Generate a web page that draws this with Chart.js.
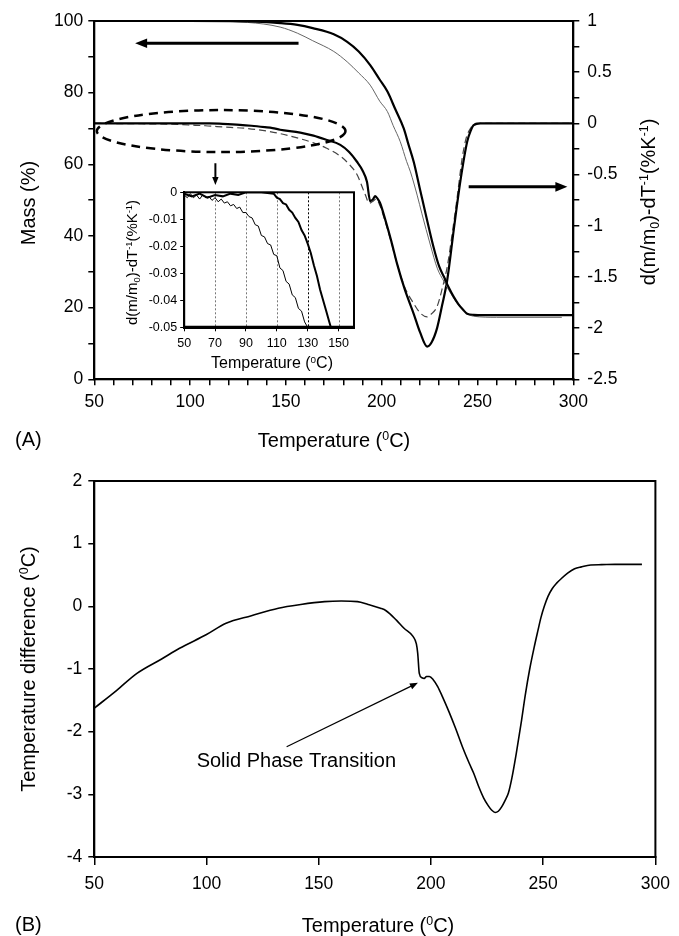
<!DOCTYPE html>
<html lang="en">
<head>
<meta charset="UTF-8">
<script src="https://cdn.jsdelivr.net/npm/chart.js@4.4.1/dist/chart.umd.min.js"></script>
<title>TGA / DTG / DTA</title>
<style>
  body { margin: 0; background: #fff; }
  #wrap { position: relative; width: 679px; height: 936px; }
  canvas { position: absolute; }
</style>
</head>
<body>
<div id="wrap">
  <canvas id="tga" width="679" height="460" style="left:0;top:0"></canvas>
  <canvas id="inset" width="260" height="195" style="left:110px;top:180px"></canvas>
  <canvas id="dta" width="679" height="476" style="left:0;top:460px"></canvas>
</div>
<script>
// ---- data ----
// (A) mass curves, left axis
const massThickT = [50, 100, 130, 147, 156, 164, 175, 182, 188, 194, 199, 203, 207, 211.5, 214, 216.7, 220, 223, 227, 230, 232.5, 235, 237.6, 240, 242.5, 244.6, 248, 260, 280, 300];
const massThick  = [100, 100, 99.9, 99.4, 98.9, 98, 96.3, 94.2, 91.5, 87.7, 83.6, 80.3, 75.5, 70, 65.5, 60.7, 53, 46, 37, 31.5, 28.6, 25.6, 23, 21, 19.4, 18.3, 18, 17.9, 17.9, 17.9];
const massThinT  = [50, 100, 130, 147, 156, 164, 175, 182, 188, 194, 199, 203, 206, 209.7, 213, 215, 218.5, 221, 225.4, 229, 232.5, 236, 240, 244, 248, 260, 280, 294];
const massThin   = [100, 100, 99.6, 98.3, 96.6, 94.5, 91.5, 88.6, 85.5, 82.1, 77.6, 74.7, 70.8, 66.3, 60.8, 57.9, 51.4, 46.2, 37.5, 31, 27.3, 24, 20.8, 18.6, 17.6, 17.3, 17.3, 17.3];
// (A) derivative curves, right axis
const dtgThickT = [50, 110, 117, 126, 132, 139, 143, 147, 157.5, 164.4, 171, 178.4, 183, 187.1, 190, 192.3, 194, 195.5, 196.6, 198, 199.2, 202, 205, 208, 212, 216.7, 220, 223.7, 226, 228.9, 231.5, 234.2, 237.6, 241.1, 244.6, 246.5, 248, 251.5, 260, 280, 300];
const dtgThick  = [0, 0, -0.005, -0.014, -0.023, -0.037, -0.046, -0.062, -0.09, -0.12, -0.16, -0.21, -0.28, -0.375, -0.46, -0.57, -0.76, -0.74, -0.71, -0.74, -0.78, -0.95, -1.15, -1.37, -1.62, -1.86, -2.04, -2.18, -2.14, -2.0, -1.78, -1.53, -1.04, -0.56, -0.18, -0.07, -0.017, 0, 0, 0, 0];
const dtgThinT  = [50, 70, 90.6, 99, 108, 114, 121, 129.5, 140, 147, 157.5, 164.4, 171, 178.4, 183, 187.1, 191.5, 193.5, 195.5, 197, 199, 202, 205, 208, 212, 216.7, 220, 223.7, 226, 228.9, 231.5, 234.2, 237, 239.4, 242, 244, 246.3, 249, 260, 280, 300];
const dtgThin   = [0, -0.003, -0.008, -0.016, -0.023, -0.031, -0.039, -0.049, -0.075, -0.1, -0.15, -0.19, -0.24, -0.32, -0.4, -0.5, -0.7, -0.78, -0.76, -0.74, -0.8, -0.97, -1.16, -1.37, -1.6, -1.76, -1.85, -1.89, -1.86, -1.79, -1.62, -1.4, -1.05, -0.72, -0.34, -0.15, -0.05, 0, 0, 0, 0];
// inset (zoom of the early derivative)
const insetThinT  = [50, 52, 54, 56, 58, 60, 62, 64, 66, 68, 70, 72, 74, 76, 78, 80, 82, 84, 86, 88, 90, 92, 94, 96, 98, 100, 102, 104, 106, 108, 110, 112, 114, 116, 118, 120, 122, 124, 126, 128, 130];
const insetThin   = [-0.001, -0.002, -0.0005, -0.002, -0.001, -0.0025, -0.001, -0.002, -0.0015, -0.003, -0.002, -0.0035, -0.0025, -0.004, -0.0035, -0.005, -0.0045, -0.006, -0.0055, -0.0075, -0.0075, -0.009, -0.0095, -0.012, -0.0125, -0.016, -0.0165, -0.019, -0.0195, -0.023, -0.0235, -0.028, -0.029, -0.033, -0.034, -0.038, -0.039, -0.043, -0.044, -0.048, -0.05];
const insetThickT = [50, 55, 60, 65, 70, 75, 80, 85, 90, 100, 108, 110, 112, 114, 116, 118, 120, 122, 124, 126, 128, 130, 132, 134, 136, 138, 140, 142, 144, 145];
const insetThick  = [-0.0005, -0.0015, -0.0005, -0.002, -0.001, -0.0015, -0.0005, -0.001, 0, 0, -0.0005, -0.002, -0.0025, -0.004, -0.0045, -0.0065, -0.0075, -0.0095, -0.011, -0.014, -0.016, -0.019, -0.0225, -0.027, -0.031, -0.036, -0.04, -0.044, -0.048, -0.05];
// (B) temperature difference
const dtaT = [50, 60, 69, 80, 88, 100, 108.7, 120, 132, 142, 152.6, 160, 167.3, 172, 177.5, 180, 184.6, 188, 192, 193.5, 194.1, 194.8, 196, 197, 198, 199.3, 201, 203, 205.1, 208, 211, 214, 217, 219, 221.3, 223.5, 225.5, 227, 228.6, 230, 231.5, 233, 234.5, 236, 238, 240.4, 242, 244, 246, 247.7, 249, 250.5, 252.1, 254, 256, 258, 260.9, 264, 267, 271.2, 276, 282, 288, 294];
const dta  = [-1.625, -1.34, -1.07, -0.84, -0.67, -0.45, -0.27, -0.15, -0.03, 0.03, 0.075, 0.085, 0.075, 0.03, -0.03, -0.07, -0.22, -0.35, -0.48, -0.6, -0.75, -1.07, -1.14, -1.15, -1.12, -1.12, -1.17, -1.28, -1.44, -1.68, -1.95, -2.24, -2.5, -2.66, -2.88, -3.06, -3.18, -3.25, -3.29, -3.27, -3.2, -3.1, -2.98, -2.75, -2.35, -1.81, -1.42, -1.0, -0.65, -0.38, -0.18, 0.0, 0.155, 0.28, 0.37, 0.44, 0.53, 0.6, 0.63, 0.66, 0.665, 0.67, 0.67, 0.67];

// tick labels
const tempLabels  = [50, 100, 150, 200, 250, 300];
const massLabels  = [0, 20, 40, 60, 80, 100];
const dtgLabels   = [-2.5, -2, -1.5, -1, -0.5, 0, 0.5, 1];
const insetTempLabels = [50, 70, 90, 110, 130, 150];
const insetDtgLabels  = [0, -0.01, -0.02, -0.03, -0.04, -0.05];
const dtaLabels   = [-4, -3, -2, -1, 0, 1, 2];

const FONT = "'Liberation Sans', Arial, sans-serif";
Chart.defaults.font.family = FONT;
Chart.defaults.color = '#000';
Chart.defaults.animation = false;

const pts = (xs, ys) => xs.map((x, i) => ({ x: x, y: ys[i] }));
const isLabel = (list, v) => list.some(l => Math.abs(l - v) < 1e-6);

function richText(ctx, parts, x, y, size, rot) {
  ctx.save();
  ctx.translate(x, y);
  if (rot) ctx.rotate(-Math.PI / 2);
  ctx.fillStyle = '#000';
  ctx.textBaseline = 'alphabetic';
  ctx.textAlign = 'left';
  let w = 0;
  parts.forEach(p => { ctx.font = (p[1] ? size * 0.62 : size) + 'px ' + FONT; w += ctx.measureText(p[0]).width; });
  let cx = -w / 2;
  parts.forEach(p => {
    const s = p[1] ? size * 0.62 : size;
    ctx.font = s + 'px ' + FONT;
    const dy = p[1] === 1 ? -size * 0.36 : p[1] === -1 ? size * 0.2 : 0;
    ctx.fillText(p[0], cx, size * 0.36 + dy);
    cx += ctx.measureText(p[0]).width;
  });
  ctx.restore();
}

function arrow(ctx, x1, y1, x2, y2, w, head) {
  const a = Math.atan2(y2 - y1, x2 - x1), c = Math.cos(a), s = Math.sin(a);
  ctx.save();
  ctx.strokeStyle = '#000'; ctx.fillStyle = '#000'; ctx.lineWidth = w;
  ctx.beginPath(); ctx.moveTo(x1, y1); ctx.lineTo(x2 - c * head * 0.8, y2 - s * head * 0.8); ctx.stroke();
  ctx.beginPath(); ctx.moveTo(x2, y2);
  ctx.lineTo(x2 - head * c + head * 0.4 * s, y2 - head * s - head * 0.4 * c);
  ctx.lineTo(x2 - head * c - head * 0.4 * s, y2 - head * s + head * 0.4 * c);
  ctx.closePath(); ctx.fill();
  ctx.restore();
}

function frame(chart, w) {
  const { ctx, chartArea: a } = chart;
  ctx.save();
  ctx.strokeStyle = '#000'; ctx.lineWidth = w;
  ctx.strokeRect(a.left, a.top, a.right - a.left, a.bottom - a.top);
  ctx.restore();
}

const tickFont = { size: 17.5 };
const axisGrid = (len) => ({ drawOnChartArea: false, drawTicks: true, tickLength: len, color: '#000', lineWidth: 1.5 });
const axisBorder = { color: '#000', width: 2 };

// ---- (A) TGA + DTG ----
new Chart(document.getElementById('tga'), {
  type: 'line',
  data: {
    datasets: [
      { data: pts(massThickT, massThick), yAxisID: 'y', borderColor: '#000', borderWidth: 2.2 },
      { data: pts(massThinT, massThin), yAxisID: 'y', borderColor: '#666', borderWidth: 1 },
      { data: pts(dtgThickT, dtgThick), yAxisID: 'y1', borderColor: '#000', borderWidth: 2.2 },
      { data: pts(dtgThinT, dtgThin), yAxisID: 'y1', borderColor: '#444', borderWidth: 1.2, borderDash: [7, 4] }
    ]
  },
  options: {
    responsive: false,
    layout: { padding: { top: 21, left: 0, right: 0, bottom: 0 } },
    plugins: { legend: { display: false }, tooltip: { enabled: false } },
    elements: { point: { radius: 0 }, line: { cubicInterpolationMode: 'monotone' } },
    scales: {
      x: {
        type: 'linear', min: 50, max: 300,
        ticks: { stepSize: 10, autoSkip: false, maxRotation: 0, padding: 6, font: tickFont,
          callback: v => isLabel(tempLabels, v) ? v : '' },
        grid: axisGrid(6), border: axisBorder,
        afterFit: s => { s.height = 80.7; }
      },
      y: {
        position: 'left', min: 0, max: 100,
        ticks: { stepSize: 10, autoSkip: false, padding: 5, font: tickFont,
          callback: v => isLabel(massLabels, v) ? v : '' },
        grid: axisGrid(6), border: axisBorder,
        afterFit: s => { s.width = 94.3; }
      },
      y1: {
        position: 'right', min: -2.5, max: 1,
        ticks: { stepSize: 0.25, autoSkip: false, padding: 8, font: tickFont,
          callback: v => isLabel(dtgLabels, v) ? String(Math.round(v * 10) / 10) : '' },
        grid: axisGrid(6), border: axisBorder,
        afterFit: s => { s.width = 105.7; }
      }
    }
  },
  plugins: [{
    id: 'tgaDecor',
    afterDatasetsDraw(chart) {
      const { ctx, scales: { x, y, y1 } } = chart;
      frame(chart, 2);
      // dashed ellipse around the early derivative region
      const cx = x.getPixelForValue(116.2), cy = y1.getPixelForValue(-0.075);
      const rx = x.getPixelForValue(116.2 + 64.9) - cx, ry = y1.getPixelForValue(-0.075 - 0.205) - cy;
      ctx.save();
      ctx.strokeStyle = '#000'; ctx.lineWidth = 2.5; ctx.setLineDash([9, 6]);
      ctx.beginPath(); ctx.ellipse(cx, cy, rx, Math.abs(ry), 0, 0, Math.PI * 2); ctx.stroke();
      ctx.restore();
      // arrows pointing to each axis
      arrow(ctx, x.getPixelForValue(156.6), y.getPixelForValue(93.8), x.getPixelForValue(71.3), y.getPixelForValue(93.8), 3, 12);
      arrow(ctx, x.getPixelForValue(245.4), y1.getPixelForValue(-0.62), x.getPixelForValue(296.9), y1.getPixelForValue(-0.62), 3, 12);
      arrow(ctx, x.getPixelForValue(113.2), y.getPixelForValue(60.3), x.getPixelForValue(113.2), y.getPixelForValue(54.2), 2, 8);
      // titles
      richText(ctx, [['Temperature (', 0], ['0', 1], ['C)', 0]], 334, 440, 20, false);
      richText(ctx, [['Mass (%)', 0]], 28, 203, 20, true);
      richText(ctx, [['d(m/m', 0], ['0', -1], [')-dT', 0], ['-1', 1], ['(%K', 0], ['-1', 1], [')', 0]], 648, 202, 20, true);
      ctx.save();
      ctx.font = '20px ' + FONT; ctx.fillStyle = '#000'; ctx.textBaseline = 'middle';
      ctx.fillText('(A)', 15, 440);
      ctx.restore();
    }
  }]
});

// ---- inset ----
new Chart(document.getElementById('inset'), {
  type: 'line',
  data: {
    datasets: [
      { data: pts(insetThickT, insetThick), borderColor: '#000', borderWidth: 2, tension: 0 },
      { data: pts(insetThinT, insetThin), borderColor: '#000', borderWidth: 1, tension: 0 }
    ]
  },
  options: {
    responsive: false,
    layout: { padding: { top: 12.3, right: 16, left: 0, bottom: 0 } },
    plugins: { legend: { display: false }, tooltip: { enabled: false } },
    elements: { point: { radius: 0 } },
    scales: {
      x: {
        type: 'linear', min: 50, max: 160,
        afterBuildTicks: s => { s.ticks = insetTempLabels.map(v => ({ value: v })); },
        ticks: { autoSkip: false, maxRotation: 0, padding: 5, font: { size: 12.5 } },
        grid: { drawOnChartArea: false, tickLength: 4, color: '#000', lineWidth: 1 },
        border: { color: '#000', width: 3 },
        afterFit: s => { s.height = 47.7; }
      },
      y: {
        min: -0.05, max: 0,
        afterBuildTicks: s => { s.ticks = insetDtgLabels.map(v => ({ value: v })); },
        ticks: { autoSkip: false, padding: 3, font: { size: 12.5 },
          callback: v => Math.abs(v) < 1e-9 ? '0' : v.toFixed(2) },
        grid: { drawOnChartArea: false, tickLength: 4, color: '#000', lineWidth: 1 },
        border: { color: '#000', width: 2 },
        afterFit: s => { s.width = 74.2; }
      }
    }
  },
  plugins: [{
    id: 'insetGrid',
    beforeDatasetsDraw(chart) {
      const { ctx, chartArea: a, scales: { x } } = chart;
      ctx.save();
      ctx.setLineDash([2, 2]); ctx.lineWidth = 1;
      insetTempLabels.slice(1).forEach(v => {
        const px = Math.round(x.getPixelForValue(v)) + 0.5;
        ctx.strokeStyle = v === 130 ? '#000' : '#777';
        ctx.beginPath(); ctx.moveTo(px, a.top); ctx.lineTo(px, a.bottom); ctx.stroke();
      });
      ctx.restore();
    },
    afterDatasetsDraw(chart) {
      const { ctx, chartArea: a } = chart;
      frame(chart, 2);
      ctx.save();
      ctx.strokeStyle = '#000'; ctx.lineWidth = 3;
      ctx.beginPath(); ctx.moveTo(a.left, a.bottom); ctx.lineTo(a.right, a.bottom); ctx.stroke();
      ctx.restore();
      richText(ctx, [['Temperature (', 0], ['0', 1], ['C)', 0]], 162, 182.7, 16, false);
      richText(ctx, [['d(m/m', 0], ['0', -1], [')-dT', 0], ['-1', 1], ['(%K', 0], ['-1', 1], [')', 0]], 21.7, 82.5, 15, true);
    }
  }]
});

// ---- (B) DTA ----
new Chart(document.getElementById('dta'), {
  type: 'line',
  data: {
    datasets: [
      { data: pts(dtaT, dta), borderColor: '#000', borderWidth: 1.6 }
    ]
  },
  options: {
    responsive: false,
    layout: { padding: { top: 21, right: 17, left: 0, bottom: 0 } },
    plugins: { legend: { display: false }, tooltip: { enabled: false } },
    elements: { point: { radius: 0 }, line: { cubicInterpolationMode: 'monotone' } },
    scales: {
      x: {
        type: 'linear', min: 50, max: 300,
        ticks: { stepSize: 50, autoSkip: false, maxRotation: 0, padding: 9, font: tickFont,
          callback: v => isLabel(tempLabels, v) ? v : '' },
        grid: axisGrid(8), border: axisBorder,
        afterFit: s => { s.height = 79; }
      },
      y: {
        min: -4, max: 2,
        ticks: { stepSize: 1, autoSkip: false, padding: 6, font: tickFont,
          callback: v => isLabel(dtaLabels, v) ? v : '' },
        grid: axisGrid(6), border: axisBorder,
        afterFit: s => { s.width = 94.3; }
      }
    }
  },
  plugins: [{
    id: 'dtaDecor',
    afterDatasetsDraw(chart) {
      const { ctx, scales: { x, y } } = chart;
      frame(chart, 2);
      arrow(ctx, x.getPixelForValue(135.7), y.getPixelForValue(-2.24), x.getPixelForValue(194.2), y.getPixelForValue(-1.22), 1.2, 8);
      ctx.save();
      ctx.font = '20px ' + FONT; ctx.fillStyle = '#000'; ctx.textBaseline = 'middle'; ctx.textAlign = 'left';
      ctx.fillText('Solid Phase Transition', x.getPixelForValue(95.6), y.getPixelForValue(-2.48));
      ctx.fillText('(B)', 15, 465);
      ctx.restore();
      richText(ctx, [['Temperature (', 0], ['0', 1], ['C)', 0]], 378, 465, 20, false);
      richText(ctx, [['Temperature difference (', 0], ['0', 1], ['C)', 0]], 28, 209, 20, true);
    }
  }]
});
</script>
</body>
</html>
